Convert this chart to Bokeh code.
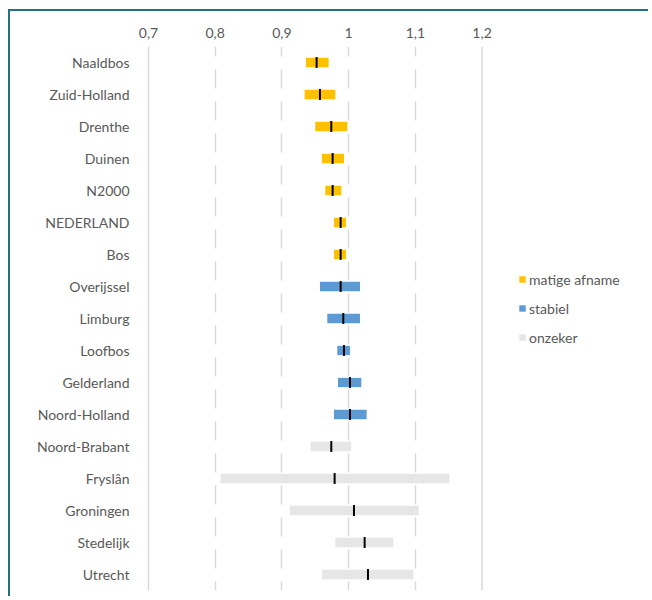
from bokeh.plotting import figure
from bokeh.models import Range1d, FactorRange, FixedTicker, Span, Legend, LegendItem, ColumnDataSource
from bokeh.embed import file_html
from bokeh.resources import INLINE

regions = ["Naaldbos", "Zuid-Holland", "Drenthe", "Duinen", "N2000", "NEDERLAND", "Bos",
           "Overijssel", "Limburg", "Loofbos", "Gelderland", "Noord-Holland",
           "Noord-Brabant", "Fryslân", "Groningen", "Stedelijk", "Utrecht"]
lower = [0.936, 0.934, 0.950, 0.960, 0.965, 0.978, 0.978,
         0.957, 0.968, 0.983, 0.984, 0.978,
         0.943, 0.808, 0.912, 0.980, 0.960]
upper = [0.970, 0.980, 0.998, 0.993, 0.989, 0.996, 0.996,
         1.017, 1.017, 1.002, 1.019, 1.027,
         1.004, 1.151, 1.105, 1.067, 1.097]
median = [0.952, 0.957, 0.974, 0.976, 0.976, 0.988, 0.988,
          0.988, 0.992, 0.993, 1.002, 1.002,
          0.974, 0.979, 1.008, 1.024, 1.029]
status = ["matige afname"] * 7 + ["stabiel"] * 5 + ["onzeker"] * 5

classes = ["matige afname", "stabiel", "onzeker"]
class_colors = ["#FFC000", "#5B9BD5", "#E7E6E6"]

tick_values = [0.7, 0.8, 0.9, 1.0, 1.1, 1.2]
tick_labels = ["0,7", "0,8", "0,9", "1", "1,1", "1,2"]

FONT = "Lato"
TXT = "#595959"

# frame spans the legend area too; the value scale is 0.1 per ~66.7 px
p = figure(width=640, height=587, output_backend="svg", toolbar_location=None,
           x_range=Range1d(0.7, 1.445), y_range=FactorRange(factors=list(reversed(regions))),
           x_axis_location="above", min_border_left=138, min_border_right=5,
           min_border_top=35, min_border_bottom=8)
p.outline_line_color = None
p.background_fill_color = "white"
p.border_fill_color = "white"
p.styles = {"border-top": "2px solid #23707F", "border-left": "2px solid #23707F",
            "margin-left": "8px", "margin-top": "9px"}

# x axis
p.xaxis.ticker = FixedTicker(ticks=tick_values)
p.xaxis.major_label_overrides = {v: l for v, l in zip(tick_values, tick_labels)}
p.xaxis.axis_line_color = None
p.xaxis.major_tick_line_color = None
p.xaxis.minor_tick_line_color = None
p.xaxis.major_label_text_font = FONT
p.xaxis.major_label_text_font_size = "14px"
p.xaxis.major_label_text_color = TXT
p.xaxis.major_label_standoff = 3

# y axis
p.yaxis.axis_line_color = "#D9D9D9"
p.yaxis.axis_line_width = 1.5
p.yaxis.major_tick_line_color = None
p.yaxis.minor_tick_line_color = None
p.yaxis.major_label_text_font = FONT
p.yaxis.major_label_text_font_size = "14px"
p.yaxis.major_label_text_color = TXT
p.yaxis.major_label_standoff = 13

p.ygrid.grid_line_color = None
p.xgrid.ticker = FixedTicker(ticks=[0.8, 0.9, 1.0, 1.1])
p.xgrid.grid_line_color = "#D9D9D9"
p.xgrid.grid_line_width = 1.5
p.xgrid.grid_line_dash = "19 13"
p.xgrid.grid_line_dash_offset = 10

p.add_layout(Span(location=1.2, dimension="height", line_color="#D9D9D9", line_width=1.5))

items = []
for cls, col in zip(classes, class_colors):
    idx = [i for i, s in enumerate(status) if s == cls]
    src = ColumnDataSource(dict(y=[regions[i] for i in idx],
                                lo=[lower[i] for i in idx],
                                hi=[upper[i] for i in idx]))
    r = p.hbar(y="y", left="lo", right="hi", height=0.29, source=src,
               fill_color=col, line_color=None)
    items.append(LegendItem(label=cls, renderers=[r]))

msrc = ColumnDataSource(dict(y=regions, x=median))
p.rect(x="x", y="y", width=2, width_units="screen", height=0.34, source=msrc,
       fill_color="black", line_color=None)

legend = Legend(items=items, location=(370, 243), orientation="vertical")
legend.border_line_color = None
legend.background_fill_alpha = 0
legend.label_text_font = FONT
legend.label_text_font_size = "14px"
legend.label_text_color = TXT
legend.glyph_width = 8
legend.glyph_height = 8
legend.label_standoff = 3
legend.label_height = 20
legend.spacing = 9
legend.padding = 0
legend.margin = 0
p.add_layout(legend, "center")

open("out.html", "w").write(file_html(p, INLINE))
